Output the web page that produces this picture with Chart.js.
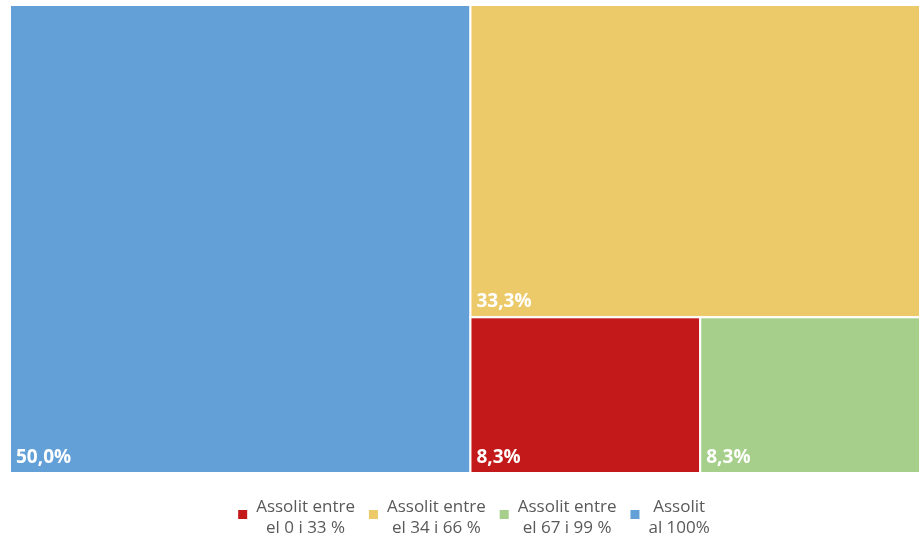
<!DOCTYPE html>
<html>
<head>
<meta charset="utf-8">
<script src="https://cdn.jsdelivr.net/npm/chart.js@4.4.1/dist/chart.umd.min.js"></script>
<style>
  html, body { margin: 0; padding: 0; background: #fff; overflow: hidden; }
  #wrap { width: 919px; height: 538px; overflow: hidden; }
</style>
</head>
<body>
<div id="wrap"><canvas id="myChart" width="930" height="538"></canvas></div>
<script>
// categories (legend order) and their shares
const categories = [
  ["Assolit entre", "el 0 i 33 %"],
  ["Assolit entre", "el 34 i 66 %"],
  ["Assolit entre", "el 67 i 99 %"],
  ["Assolit", "al 100%"]
];
const values = [8.3, 33.3, 8.3, 50.0];
const colors = ["#C3191A", "#ECCA6A", "#A5CF8A", "#63A0D7"];

// squarified treemap layout in pixel space
function worst(row, side) {
  const sum = row.reduce((s, r) => s + r.area, 0);
  const max = Math.max(...row.map(r => r.area));
  const min = Math.min(...row.map(r => r.area));
  return Math.max(side * side * max / (sum * sum), (sum * sum) / (side * side * min));
}

function squarify(items, x, y, w, h) {
  const out = [];
  let i = 0;
  while (i < items.length) {
    const side = Math.min(w, h);
    let row = [items[i]];
    i++;
    while (i < items.length && worst(row.concat([items[i]]), side) <= worst(row, side)) {
      row.push(items[i]);
      i++;
    }
    const sum = row.reduce((s, r) => s + r.area, 0);
    if (w >= h) {
      const cw = sum / h;
      let cy = y;
      row.forEach(r => {
        const rh = r.area / cw;
        out.push({ idx: r.idx, x: x, y: cy, w: cw, h: rh });
        cy += rh;
      });
      x += cw; w -= cw;
    } else {
      const rh = sum / w;
      let cx = x;
      row.forEach(r => {
        const rw = r.area / rh;
        out.push({ idx: r.idx, x: cx, y: y, w: rw, h: rh });
        cx += rw;
      });
      y += rh; h -= rh;
    }
  }
  return out;
}

const treemapPlugin = {
  id: "treemap",
  afterDraw(chart) {
    const ctx = chart.ctx;
    const xs = chart.scales.x, ys = chart.scales.y;
    const left = xs.getPixelForValue(0), right = xs.getPixelForValue(1);
    const top = ys.getPixelForValue(1), bottom = ys.getPixelForValue(0);
    const W = right - left, H = bottom - top;
    const total = values.reduce((a, b) => a + b, 0);
    const items = values.map((v, idx) => ({ idx, area: v / total * W * H }))
      .sort((a, b) => b.area - a.area);
    const rects = squarify(items, left, top, W, H);

    ctx.save();
    rects.forEach(r => {
      ctx.fillStyle = colors[r.idx];
      ctx.fillRect(r.x, r.y, r.w, r.h);
      ctx.strokeStyle = "#ffffff";
      ctx.lineWidth = 2;
      ctx.strokeRect(r.x, r.y, r.w, r.h);
      ctx.fillStyle = "#ffffff";
      ctx.font = "bold 19px 'Open Sans'";
      ctx.textBaseline = "alphabetic";
      ctx.textAlign = "left";
      ctx.fillText(values[r.idx].toFixed(1).replace(".", ",") + "%", r.x + 6, r.y + r.h - 10);
    });

    // legend
    ctx.font = "17px 'Open Sans'";
    const box = 9, gapBox = 9, gapItem = 14;
    const widths = categories.map(c => Math.max(...c.map(t => ctx.measureText(t).width)));
    const totalW = widths.reduce((s, w) => s + box + gapBox + w, 0) + gapItem * (categories.length - 1);
    let lx = (left + right) / 2 - totalW / 2 + 4;
    const line1 = 512, line2 = 533;
    categories.forEach((c, i) => {
      ctx.fillStyle = colors[i];
      ctx.fillRect(lx, 510, box, box);
      const cx = lx + box + gapBox + widths[i] / 2;
      ctx.fillStyle = "#595959";
      ctx.textAlign = "center";
      ctx.fillText(c[0], cx, line1);
      ctx.fillText(c[1], cx, line2);
      lx += box + gapBox + widths[i] + gapItem;
    });
    ctx.restore();
  }
};

new Chart(document.getElementById("myChart").getContext("2d"), {
  type: "scatter",
  data: {
    datasets: categories.map((c, i) => ({
      label: c.join(" "),
      data: [],
      backgroundColor: colors[i]
    }))
  },
  options: {
    responsive: false,
    animation: false,
    layout: { padding: { left: 10, top: 5, right: 0, bottom: 65 } },
    scales: {
      x: { type: "linear", min: 0, max: 1, display: false },
      y: { type: "linear", min: 0, max: 1, display: false }
    },
    plugins: {
      legend: { display: false },
      tooltip: { enabled: false }
    }
  },
  plugins: [treemapPlugin]
});
</script>
</body>
</html>
